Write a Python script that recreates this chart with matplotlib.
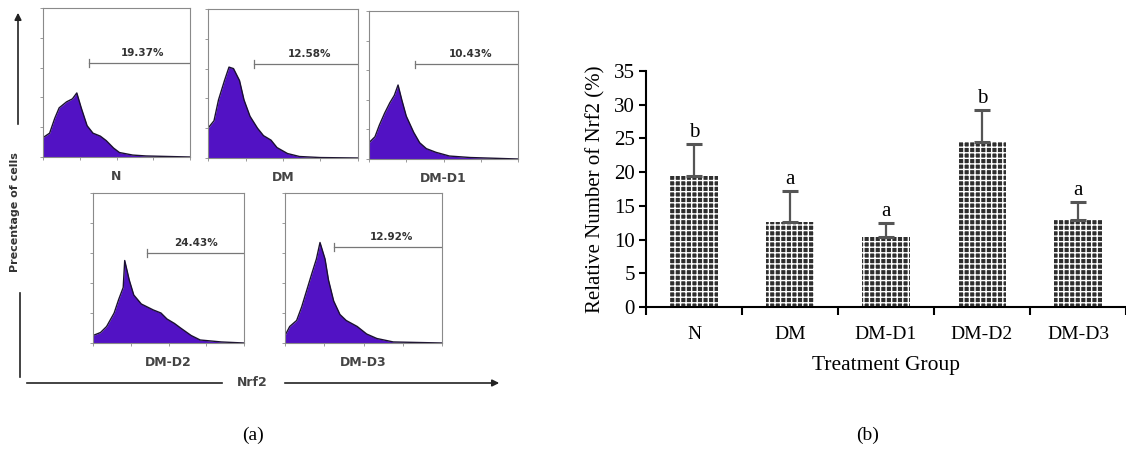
import matplotlib
matplotlib.use('Agg')
import matplotlib.pyplot as plt
from matplotlib.patches import FancyArrowPatch
from matplotlib.lines import Line2D

# ---- panel (b) data ----
groups = ["N", "DM", "DM-D1", "DM-D2", "DM-D3"]
nrf2_pct = [19.37, 12.58, 10.43, 24.43, 12.92]
nrf2_err = [4.8, 4.6, 2.0, 4.8, 2.7]
sig_letters = ["b", "a", "a", "b", "a"]

# ---- panel (a) histogram envelopes (fraction of x range, fraction of box height) ----
n_x = [0, 0.045, 0.08, 0.11, 0.16, 0.20, 0.23, 0.26, 0.30, 0.34, 0.39, 0.43, 0.48, 0.52, 0.61, 0.70, 1.0]
n_h = [0.13, 0.16, 0.26, 0.33, 0.37, 0.39, 0.43, 0.33, 0.21, 0.16, 0.14, 0.11, 0.06, 0.03, 0.013, 0.007, 0]

dm_x = [0, 0.04, 0.07, 0.11, 0.14, 0.17, 0.21, 0.24, 0.28, 0.33, 0.37, 0.42, 0.46, 0.53, 0.61, 0.75, 1.0]
dm_h = [0.20, 0.25, 0.39, 0.52, 0.61, 0.60, 0.52, 0.39, 0.28, 0.20, 0.15, 0.12, 0.07, 0.03, 0.01, 0.003, 0]

d1_x = [0, 0.04, 0.07, 0.105, 0.14, 0.17, 0.195, 0.22, 0.25, 0.30, 0.34, 0.385, 0.45, 0.54, 0.68, 1.0]
d1_h = [0.11, 0.15, 0.23, 0.31, 0.38, 0.43, 0.50, 0.40, 0.29, 0.18, 0.11, 0.07, 0.045, 0.02, 0.01, 0]

d2_x = [0, 0.05, 0.09, 0.14, 0.17, 0.20, 0.21, 0.24, 0.27, 0.32, 0.36, 0.40, 0.45, 0.49, 0.54, 0.58, 0.65, 0.71, 0.85, 1.0]
d2_h = [0.05, 0.07, 0.11, 0.20, 0.29, 0.37, 0.55, 0.42, 0.32, 0.26, 0.24, 0.22, 0.20, 0.16, 0.13, 0.10, 0.05, 0.02, 0.007, 0]

d3_x = [0, 0.03, 0.074, 0.106, 0.138, 0.17, 0.20, 0.223, 0.255, 0.277, 0.31, 0.35, 0.39, 0.46, 0.52, 0.585, 0.69, 1.0]
d3_h = [0.05, 0.11, 0.15, 0.24, 0.35, 0.46, 0.56, 0.67, 0.56, 0.42, 0.28, 0.19, 0.15, 0.11, 0.06, 0.03, 0.007, 0]

hist_names = ["N", "DM", "DM-D1", "DM-D2", "DM-D3"]
hist_pct = ["19.37%", "12.58%", "10.43%", "24.43%", "12.92%"]
gate_start = [0.31, 0.31, 0.31, 0.36, 0.31]
gate_level = [0.63, 0.63, 0.64, 0.60, 0.64]

W, H = 1126, 454


def px_rect(x0, y0, x1, y1):
    # pixel box -> figure fraction rect
    return [x0 / W, 1 - y1 / H, (x1 - x0) / W, (y1 - y0) / H]


fig = plt.figure(figsize=(11.26, 4.54), dpi=100)
label_font = 'DejaVu Sans'

hist_boxes = [(43, 8, 190, 157), (208, 9, 358, 158), (369, 11, 518, 159),
              (93, 193, 244, 343), (285, 193, 442, 343)]
hist_data = [(n_x, n_h), (dm_x, dm_h), (d1_x, d1_h), (d2_x, d2_h), (d3_x, d3_h)]

for i, box in enumerate(hist_boxes):
    ax = fig.add_axes(px_rect(*box))
    hx, hh = hist_data[i]
    ax.fill_between(hx, hh, 0, color='#5212C4', linewidth=0)
    ax.plot(hx, hh, color='#1a1030', linewidth=1.0)
    ax.set_xlim(0, 1)
    ax.set_ylim(0, 1)
    for s in ax.spines.values():
        s.set_color('#8a8a8a')
        s.set_linewidth(0.8)
    ax.set_xticks([0, 0.25, 0.5, 0.75, 1.0])
    ax.set_yticks([0, 0.2, 0.4, 0.6, 0.8, 1.0])
    ax.tick_params(length=2, width=0.6, colors='#8a8a8a', labelsize=2)
    ax.set_xticklabels([])
    ax.set_yticklabels([])
    # gate marker
    ax.plot([gate_start[i], 1.0], [gate_level[i], gate_level[i]], color='#777777', linewidth=0.9)
    ax.plot([gate_start[i], gate_start[i]], [gate_level[i] - 0.025, gate_level[i] + 0.025],
            color='#777777', linewidth=0.9)
    ax.text(0.68, gate_level[i] + 0.035, hist_pct[i], ha='center', va='bottom',
            fontsize=7.5, fontweight='bold', color='#333333', family=label_font)
    ax.text(0.5, -0.09, hist_names[i], transform=ax.transAxes, ha='center', va='top',
            fontsize=9, fontweight='bold', color='#444444', family=label_font)

# panel (a) axis decorations
fig.add_artist(FancyArrowPatch((18 / W, 1 - 127 / H), (18 / W, 1 - 10 / H),
                               transform=fig.transFigure, arrowstyle='-|>', mutation_scale=10,
                               color='#222222', linewidth=1.2))
fig.add_artist(Line2D([20 / W, 20 / W], [1 - 293 / H, 1 - 377 / H], transform=fig.transFigure,
                      color='#222222', linewidth=1.2))
fig.text(15 / W, 1 - 212 / H, "Precentage of cells", rotation=90, ha='center', va='center',
         fontsize=8, fontweight='bold', color='#333333', family=label_font)
fig.add_artist(Line2D([27 / W, 222 / W], [1 - 383 / H, 1 - 383 / H], transform=fig.transFigure,
                      color='#222222', linewidth=1.2))
fig.add_artist(FancyArrowPatch((282 / W, 1 - 383 / H), (502 / W, 1 - 383 / H),
                               transform=fig.transFigure, arrowstyle='-|>', mutation_scale=10,
                               color='#222222', linewidth=1.2))
fig.text(252 / W, 1 - 383 / H, "Nrf2", ha='center', va='center', fontsize=9,
         fontweight='bold', color='#444444', family=label_font)

# ---- panel (b) bar chart ----
plt.rcParams['hatch.linewidth'] = 1.0
serif = 'Liberation Serif'
axb = fig.add_axes(px_rect(646, 71, 1126, 307))
pos = list(range(len(groups)))
axb.bar(pos, nrf2_pct, width=0.5, color='#2e2e2e', edgecolor='white', linewidth=0,
        hatch='+++')
axb.errorbar(pos, nrf2_pct, yerr=[[0] * len(pos), nrf2_err], fmt='none', ecolor='#555555',
             elinewidth=1.6, capsize=6, capthick=2.2)
for p, v, e, s in zip(pos, nrf2_pct, nrf2_err, sig_letters):
    axb.text(p, v + e + 0.3, s, ha='center', va='bottom', fontsize=15, family=serif)

axb.set_xlim(-0.5, 4.5)
axb.set_ylim(0, 35)
axb.set_yticks(range(0, 36, 5))
axb.set_xticks([-0.5, 0.5, 1.5, 2.5, 3.5, 4.5])
axb.set_xticklabels([])
axb.set_xticks(pos, minor=True)
axb.set_xticklabels(groups, minor=True)
axb.tick_params(axis='x', which='major', length=6, width=1.5, direction='out')
axb.tick_params(axis='x', which='minor', length=0, pad=14, labelsize=14)
axb.tick_params(axis='y', length=5, width=1.5, direction='out', labelsize=15, pad=3)
for lab in axb.get_xticklabels(minor=True) + axb.get_yticklabels():
    lab.set_family(serif)
axb.spines['top'].set_visible(False)
axb.spines['right'].set_visible(False)
axb.spines['left'].set_linewidth(1.5)
axb.spines['bottom'].set_linewidth(1.5)
axb.set_xlabel("Treatment Group", fontsize=15.5, family=serif, labelpad=9)
axb.set_ylabel("Relative Number of Nrf2 (%)", fontsize=15, family=serif, labelpad=6)

fig.text(253 / W, 1 - 435 / H, "(a)", ha='center', va='center', fontsize=14, family=serif)
fig.text(868 / W, 1 - 435 / H, "(b)", ha='center', va='center', fontsize=14, family=serif)

fig.savefig('out.png', dpi=100)
